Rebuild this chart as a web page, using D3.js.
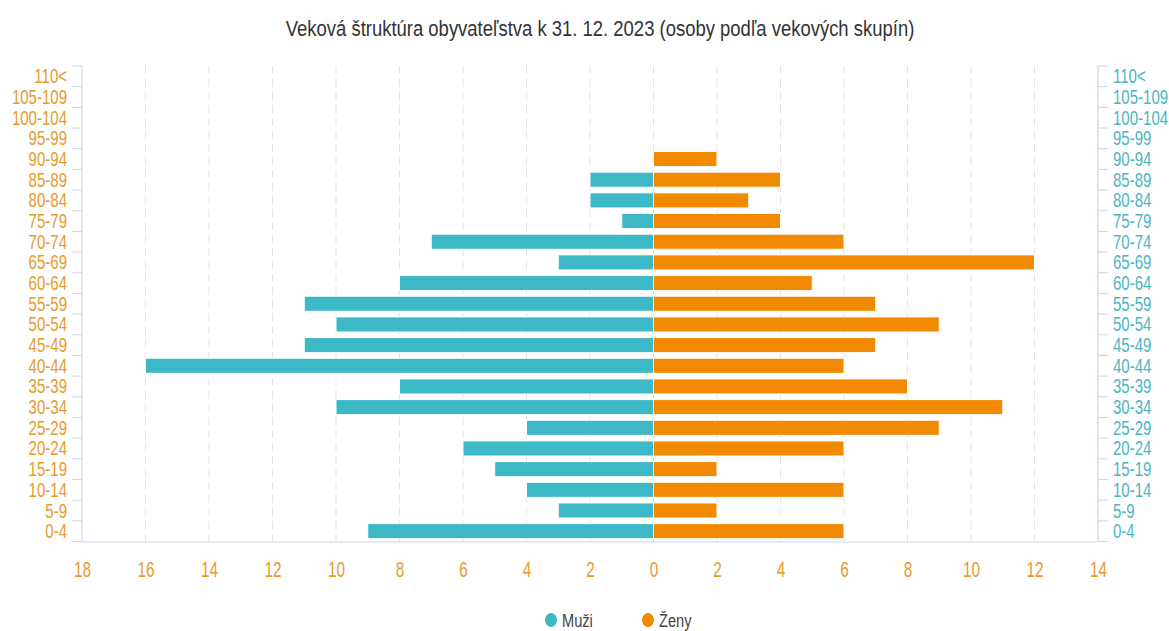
<!DOCTYPE html>
<html>
<head>
  <meta http-equiv="Content-Type" content="text/html;charset=utf-8" />
  <script src="https://cdn.jsdelivr.net/npm/d3@7"></script>
  <style type="text/css">
    body { margin: 0; background: #fff; }
    text { font-family: "Liberation Sans", Arial, sans-serif; }
  </style>
</head>
<body>
  <svg id="c" width="1169" height="631"></svg>
  <script>
    // age groups, bottom to top
    const ageGroups = ["0-4", "5-9", "10-14", "15-19", "20-24", "25-29", "30-34", "35-39", "40-44",
      "45-49", "50-54", "55-59", "60-64", "65-69", "70-74", "75-79", "80-84", "85-89", "90-94",
      "95-99", "100-104", "105-109", "110<"];
    const muzi = [9, 3, 4, 5, 6, 4, 10, 8, 16, 11, 10, 11, 8, 3, 7, 1, 2, 2, 0, 0, 0, 0, 0];
    const zeny = [6, 2, 6, 2, 6, 9, 11, 8, 6, 7, 9, 7, 5, 12, 6, 4, 3, 4, 2, 0, 0, 0, 0];
    const xTicks = [-18, -16, -14, -12, -10, -8, -6, -4, -2, 0, 2, 4, 6, 8, 10, 12, 14];
    const seriesNames = ["Muži", "Ženy"];

    const colMuzi = "#3db8c6", colZeny = "#f18a00";
    const labOrange = "#e79a2c", labTeal = "#4cb6bf";

    const svg = d3.select("#c");
    const pLeft = 82, pRight = 1098, pTop = 66, pBottom = 541.5;

    const x = d3.scaleLinear().domain([-18, 14]).range([pLeft, pRight]);
    const y = d3.scaleBand().domain(ageGroups).range([pBottom, pTop]).paddingInner(0.27).paddingOuter(0.135);
    const yEdge = d3.scaleBand().domain(ageGroups).range([pBottom, pTop]);

    // condensed text: the reference uses a narrow face, so squeeze a normal one
    function narrowText(parent, tx, ty, sx, str) {
      return parent.append("g")
        .attr("transform", `translate(${tx},${ty}) scale(${sx},1)`)
        .append("text").text(str);
    }

    // title
    narrowText(svg, 600, 36, 0.84, "Veková štruktúra obyvateľstva k 31. 12. 2023 (osoby podľa vekových skupín)")
      .attr("text-anchor", "middle")
      .attr("font-size", 22).attr("fill", "#333");

    // grid
    svg.append("g").selectAll("line")
      .data(xTicks.filter(d => d !== -18))
      .join("line")
      .attr("x1", d => x(d)).attr("x2", d => x(d))
      .attr("y1", pTop).attr("y2", pBottom)
      .attr("stroke", "#e3e3e3").attr("stroke-dasharray", "8,5");

    // bars
    const rows = ageGroups.map((g, i) => ({ g, m: muzi[i], z: zeny[i] }));
    svg.append("g").selectAll("rect")
      .data(rows.filter(d => d.m > 0))
      .join("rect")
      .attr("x", d => x(-d.m)).attr("width", d => x(0) - x(-d.m))
      .attr("y", d => y(d.g)).attr("height", y.bandwidth())
      .attr("fill", colMuzi).attr("stroke", "#fff").attr("stroke-width", 1);
    svg.append("g").selectAll("rect")
      .data(rows.filter(d => d.z > 0))
      .join("rect")
      .attr("x", x(0)).attr("width", d => x(d.z) - x(0))
      .attr("y", d => y(d.g)).attr("height", y.bandwidth())
      .attr("fill", colZeny).attr("stroke", "#fff").attr("stroke-width", 1);

    // x axis
    const xa = svg.append("g").attr("transform", `translate(0,${pBottom})`)
      .call(d3.axisBottom(x).tickValues(xTicks).tickFormat(d => Math.abs(d)).tickSize(0).tickPadding(20));
    xa.select(".domain").attr("stroke", "#ccd6eb");
    xa.selectAll("text").attr("font-size", 22).attr("fill", labOrange)
      .attr("font-family", "'Liberation Sans', sans-serif")
      .attr("transform", "scale(0.7,1)");

    // y axes, ticks at band edges
    const edges = ageGroups.map(g => yEdge(g)).concat([pBottom]);
    function sideAxis(xPos, dir, color, anchor) {
      const g = svg.append("g");
      g.append("line").attr("x1", xPos).attr("x2", xPos).attr("y1", pTop).attr("y2", pBottom)
        .attr("stroke", "#ccd6eb");
      g.selectAll("line.t").data(edges).join("line").attr("class", "t")
        .attr("x1", xPos).attr("x2", xPos + dir * 10)
        .attr("y1", d => d).attr("y2", d => d)
        .attr("stroke", "#ccd6eb");
      ageGroups.forEach(d => {
        narrowText(g, xPos + dir * 15, yEdge(d) + yEdge.bandwidth() / 2, 0.77, d)
          .attr("dy", "0.36em")
          .attr("text-anchor", anchor)
          .attr("font-size", 19.5).attr("fill", color);
      });
    }
    sideAxis(pLeft, -1, labOrange, "end");
    sideAxis(pRight, 1, labTeal, "start");

    // legend
    const legend = svg.append("g");
    const lx = [551, 648];
    legend.selectAll("ellipse").data(seriesNames).join("ellipse")
      .attr("cx", (d, i) => lx[i]).attr("cy", 620).attr("rx", 6).attr("ry", 7)
      .attr("fill", (d, i) => i === 0 ? colMuzi : colZeny);
    seriesNames.forEach((d, i) => {
      narrowText(legend, lx[i] + 11, 620, 0.77, d)
        .attr("dy", "0.36em")
        .attr("font-size", 19).attr("fill", "#444");
    });
  </script>
</body>
</html>
